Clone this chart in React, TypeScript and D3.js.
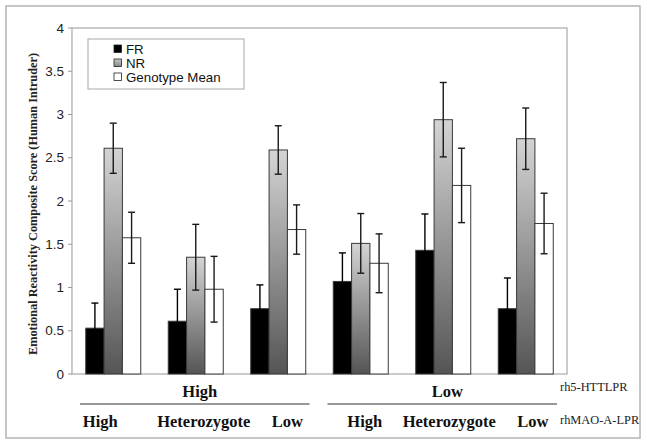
import React from "react";
import * as d3 from "d3";

const groups = ["High-High", "High-Het", "High-Low", "Low-High", "Low-Het", "Low-Low"];
const mainLevels = ["High", "Low"];
const subLabels = ["High", "Heterozygote", "Low", "High", "Heterozygote", "Low"];
const series = ["FR", "NR", "Genotype Mean"];
const frValues = [0.53, 0.61, 0.755, 1.07, 1.43, 0.755];
const frErr = [0.29, 0.37, 0.275, 0.33, 0.42, 0.355];
const nrValues = [2.61, 1.35, 2.59, 1.51, 2.94, 2.72];
const nrErr = [0.29, 0.38, 0.28, 0.345, 0.43, 0.355];
const gmValues = [1.575, 0.98, 1.67, 1.28, 2.18, 1.74];
const gmErr = [0.295, 0.38, 0.285, 0.34, 0.43, 0.35];
const yTicks = [0, 0.5, 1, 1.5, 2, 2.5, 3, 3.5, 4];
const subLabelOffsets = [-13, 8, 9, 4, 6, 7];

const W = 647, H = 445;
const plot = { left: 72, right: 567, top: 28, bottom: 374 };

export default function App() {
  const x0 = d3.scaleBand().domain(groups).range([plot.left, plot.right]).paddingInner(0);
  const bw = x0.bandwidth() / 4.5;
  const x1 = d3.scaleBand().domain(series).range([0, bw * 3]);
  const y = d3.scaleLinear().domain([0, 4]).range([plot.bottom, plot.top]);
  const vals = [frValues, nrValues, gmValues];
  const errs = [frErr, nrErr, gmErr];
  const fills = ["#000000", "url(#nrGrad)", "#ffffff"];
  const serif = "'Liberation Serif', 'Times New Roman', serif";
  const sans = "'Liberation Sans', Arial, sans-serif";

  return (
    <svg width={W} height={H} style={{ position: "absolute", left: 0, top: 0, background: "#fff" }}>
      <defs>
        <linearGradient id="nrGrad" x1="0" y1="0" x2="0" y2="1">
          <stop offset="0" stopColor="#d4d4d4" />
          <stop offset="1" stopColor="#555555" />
        </linearGradient>
        <linearGradient id="nrGradL" x1="0" y1="0" x2="0" y2="1">
          <stop offset="0" stopColor="#c8c8c8" />
          <stop offset="1" stopColor="#888888" />
        </linearGradient>
      </defs>
      <rect x={6} y={6} width={634} height={432} fill="#fff" stroke="#b4b4b4" strokeWidth={1.5} />
      <rect x={plot.left} y={plot.top} width={plot.right - plot.left} height={plot.bottom - plot.top}
        fill="none" stroke="#a8a8a8" strokeWidth={1.2} />
      {yTicks.map((t) => (
        <g key={t}>
          <line x1={plot.left - 4} x2={plot.left} y1={y(t)} y2={y(t)} stroke="#999" />
          <text x={plot.left - 8} y={y(t)} dy="0.35em" textAnchor="end" fontFamily={sans} fontSize={13.5} fill="#222">
            {t}
          </text>
        </g>
      ))}
      <text transform={`translate(37,204) rotate(-90)`} textAnchor="middle"
        fontFamily={serif} fontWeight="bold" fontSize={12.3} fill="#222">
        Emotional Reactivity Composite Score (Human Intruder)
      </text>
      {groups.map((g, gi) => (
        <g key={g}>
          {series.map((s, si) => {
            const xb = (x0(g) as number) + bw * 0.75 + (x1(s) as number);
            const v = vals[si][gi];
            const e = errs[si][gi];
            const cx = xb + bw / 2;
            const ec = si === 0 ? "#000" : "#1a1a1a";
            return (
              <g key={s}>
                <rect x={xb} y={y(v)} width={bw} height={y(0) - y(v)} fill={fills[si]} stroke="#3a3a3a" strokeWidth={1} />
                <line x1={cx} x2={cx} y1={y(v + e)} y2={y(v - e)} stroke={ec} strokeWidth={1.4} />
                <line x1={cx - 3.5} x2={cx + 3.5} y1={y(v + e)} y2={y(v + e)} stroke={ec} strokeWidth={1.4} />
                <line x1={cx - 3.5} x2={cx + 3.5} y1={y(v - e)} y2={y(v - e)} stroke={ec} strokeWidth={1.4} />
              </g>
            );
          })}
        </g>
      ))}
      <rect x={88} y={39} width={156} height={50} fill="#fff" stroke="#a8a8a8" strokeWidth={1} />
      {series.map((s, i) => (
        <g key={s}>
          <rect x={114} y={45 + i * 14} width={7.5} height={7.5} fill={["#000", "url(#nrGradL)", "#fff"][i]} stroke="#222" strokeWidth={0.8} />
          <text x={126} y={49 + i * 14} dy="0.36em" fontFamily={sans} fontSize={13.3} fill="#111">{s}</text>
        </g>
      ))}
      {mainLevels.map((m, mi) => {
        const first = x0(groups[mi * 3]) as number;
        const last = (x0(groups[mi * 3 + 2]) as number) + x0.bandwidth();
        const cx = (first + last) / 2;
        return (
          <g key={m}>
            <text x={cx + 4} y={391} dy="0.35em" textAnchor="middle" fontFamily={serif} fontWeight="bold" fontSize={16.5} fill="#111">{m}</text>
            <line x1={first + 8} x2={last - 10} y1={404} y2={404} stroke="#333" strokeWidth={1.2} />
          </g>
        );
      })}
      {groups.map((g, gi) => (
        <text key={g} x={(x0(g) as number) + x0.bandwidth() / 2 + subLabelOffsets[gi]} y={421.5} dy="0.35em" textAnchor="middle"
          fontFamily={serif} fontWeight="bold" fontSize={16.5} fill="#111">{subLabels[gi]}</text>
      ))}
      <text x={560} y={387} dy="0.35em" fontFamily={serif} fontSize={12.4} fill="#222">rh5-HTTLPR</text>
      <text x={560} y={420} dy="0.35em" fontFamily={serif} fontSize={12.4} fill="#222">rhMAO-A-LPR</text>
    </svg>
  );
}
